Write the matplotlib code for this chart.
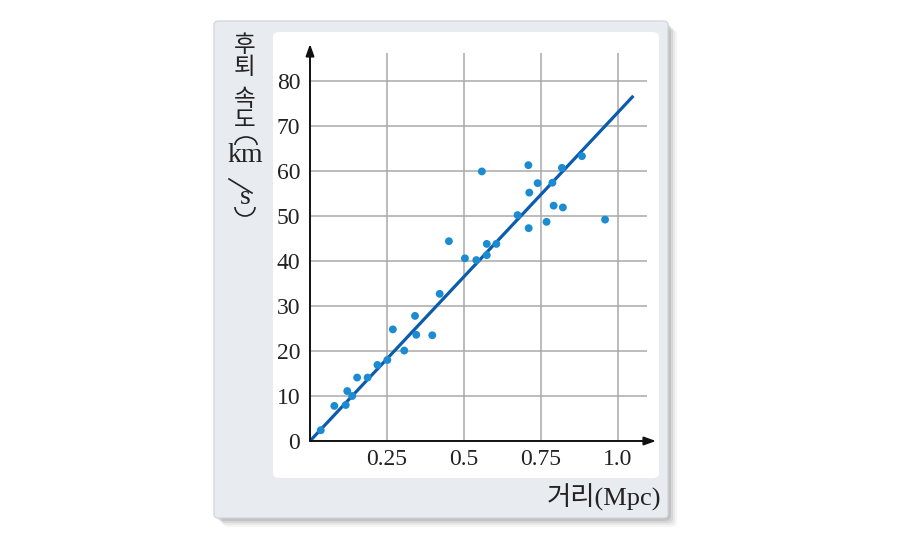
import matplotlib
matplotlib.use("Agg")
from matplotlib import pyplot as plt
from matplotlib.patches import FancyBboxPatch, Arc

# distance (Mpc) and recession velocity (km/s)
distance = [0.035, 0.079, 0.116, 0.121, 0.137, 0.153, 0.187, 0.219, 0.251, 0.269,
            0.306, 0.341, 0.345, 0.397, 0.421, 0.451, 0.503, 0.540, 0.558, 0.574,
            0.574, 0.605, 0.674, 0.709, 0.712, 0.710, 0.739, 0.768, 0.787, 0.791,
            0.818, 0.821, 0.883, 0.958]
velocity = [2.4, 7.8, 8.0, 11.1, 10.0, 14.1, 14.1, 16.9, 18.0, 24.8,
            20.1, 27.8, 23.6, 23.5, 32.7, 44.4, 40.6, 40.2, 59.9, 43.8,
            41.3, 43.8, 50.2, 61.3, 55.2, 47.3, 57.3, 48.7, 57.4, 52.3,
            60.7, 51.9, 63.3, 49.2]

# fitted line end points
fit_x = [0.0, 1.05]
fit_y = [0.0, 76.7]

x_ticks = [0.25, 0.5, 0.75, 1.0]
x_tick_labels = ["0.25", "0.5", "0.75", "1.0"]
y_ticks = [0, 10, 20, 30, 40, 50, 60, 70, 80]

W, H = 900, 540
fig = plt.figure(figsize=(9, 5.4), dpi=100)
fig.patch.set_facecolor("white")

def fx(px):
    return px / W

def fy(py):
    return 1 - py / H

# soft shadow of the panel
for i, a in enumerate([0.04, 0.05, 0.07, 0.09, 0.11]):
    off = 9 - 2 * i
    fig.patches.append(FancyBboxPatch((fx(214 + off), fy(518 + off)), fx(454), 497 / H,
                                      boxstyle="round,pad=0,rounding_size=0.008",
                                      transform=fig.transFigure, facecolor="black",
                                      edgecolor="none", alpha=a, zorder=0))
# outer panel
fig.patches.append(FancyBboxPatch((fx(214), fy(518)), fx(454), 497 / H,
                                  boxstyle="round,pad=0,rounding_size=0.006",
                                  transform=fig.transFigure, facecolor="#e8ecf1",
                                  edgecolor="#d3d9e0", lw=1, zorder=1))
# white inner panel
fig.patches.append(FancyBboxPatch((fx(273), fy(478)), fx(386), 446 / H,
                                  boxstyle="round,pad=0,rounding_size=0.008",
                                  transform=fig.transFigure, facecolor="white",
                                  edgecolor="none", zorder=2))

x_scale = 308.0   # px per Mpc
y_scale = 4.5     # px per km/s
x0, y0 = 310, 441
x_max = (656 - x0) / x_scale
y_max = (y0 - 44) / y_scale

ax = fig.add_axes([fx(x0), fy(y0), (656 - x0) / W, (y0 - 44) / H])
ax.set_zorder(3)
ax.patch.set_visible(False)
ax.set_xlim(0, x_max)
ax.set_ylim(0, y_max)
for s in ax.spines.values():
    s.set_visible(False)

grid_c = "#a9a9a9"
ax.hlines(y_ticks[1:], 0, (647 - x0) / x_scale, color=grid_c, lw=1.1, zorder=1)
ax.vlines(x_ticks, 0, (y0 - 53) / y_scale, color=grid_c, lw=1.1, zorder=1)

ax.plot(fit_x, fit_y, color="#0b5cac", lw=2.3, zorder=3, solid_capstyle="butt")
ax.scatter(distance, velocity, s=32, color="#1b8bd2", edgecolors="none", zorder=4)

# axes with arrow heads
arrow = dict(arrowstyle="-|>,head_length=0.7,head_width=0.25", color="#111111", lw=1.4,
             shrinkA=0, shrinkB=0)
ax.annotate("", xy=(x_max, 0), xytext=(0, 0), arrowprops=arrow, annotation_clip=False)
ax.annotate("", xy=(0, y_max), xytext=(0, 0), arrowprops=arrow, annotation_clip=False)

serif = ["Liberation Serif", "Noto Sans CJK KR"]
ax.set_xticks(x_ticks)
ax.set_xticklabels(x_tick_labels, fontfamily=serif, fontsize=17, color="#222222")
ax.set_yticks(y_ticks)
ax.set_yticklabels([str(v) for v in y_ticks], fontfamily=serif, fontsize=17, color="#222222")
ax.tick_params(axis="x", length=0, pad=6)
ax.tick_params(axis="y", length=0, pad=7)

# x label
fig.text(fx(661), fy(497), "거리(Mpc)", ha="right", va="center",
         fontfamily=serif, fontsize=19, color="#222222")

# stacked y label
kr = ["Noto Sans CJK KR", "DejaVu Sans"]
stack = [("후", 46, kr, 17), ("퇴", 68, kr, 17), ("속", 99, kr, 17), ("도", 121, kr, 17),
         ("km", 156, serif, 20), ("s", 198, serif, 20)]
for txt, py, fam, fs in stack:
    fig.text(fx(245), fy(py), txt, ha="center", va="center",
             fontfamily=fam, fontsize=fs, color="#222222", zorder=5)
ink = "#222222"
fig.add_artist(plt.Line2D([fx(229), fx(252)], [fy(179), fy(193)], color=ink, lw=1.2,
                          zorder=5))
fig.add_artist(Arc((fx(246), fy(145)), 22 / W, 16 / H, theta1=0, theta2=180,
                   transform=fig.transFigure, color=ink, lw=1.2, zorder=5))
fig.add_artist(Arc((fx(245), fy(207)), 20 / W, 18 / H, theta1=180, theta2=360,
                   transform=fig.transFigure, color=ink, lw=1.2, zorder=5))

fig.savefig("out.png", dpi=100)
